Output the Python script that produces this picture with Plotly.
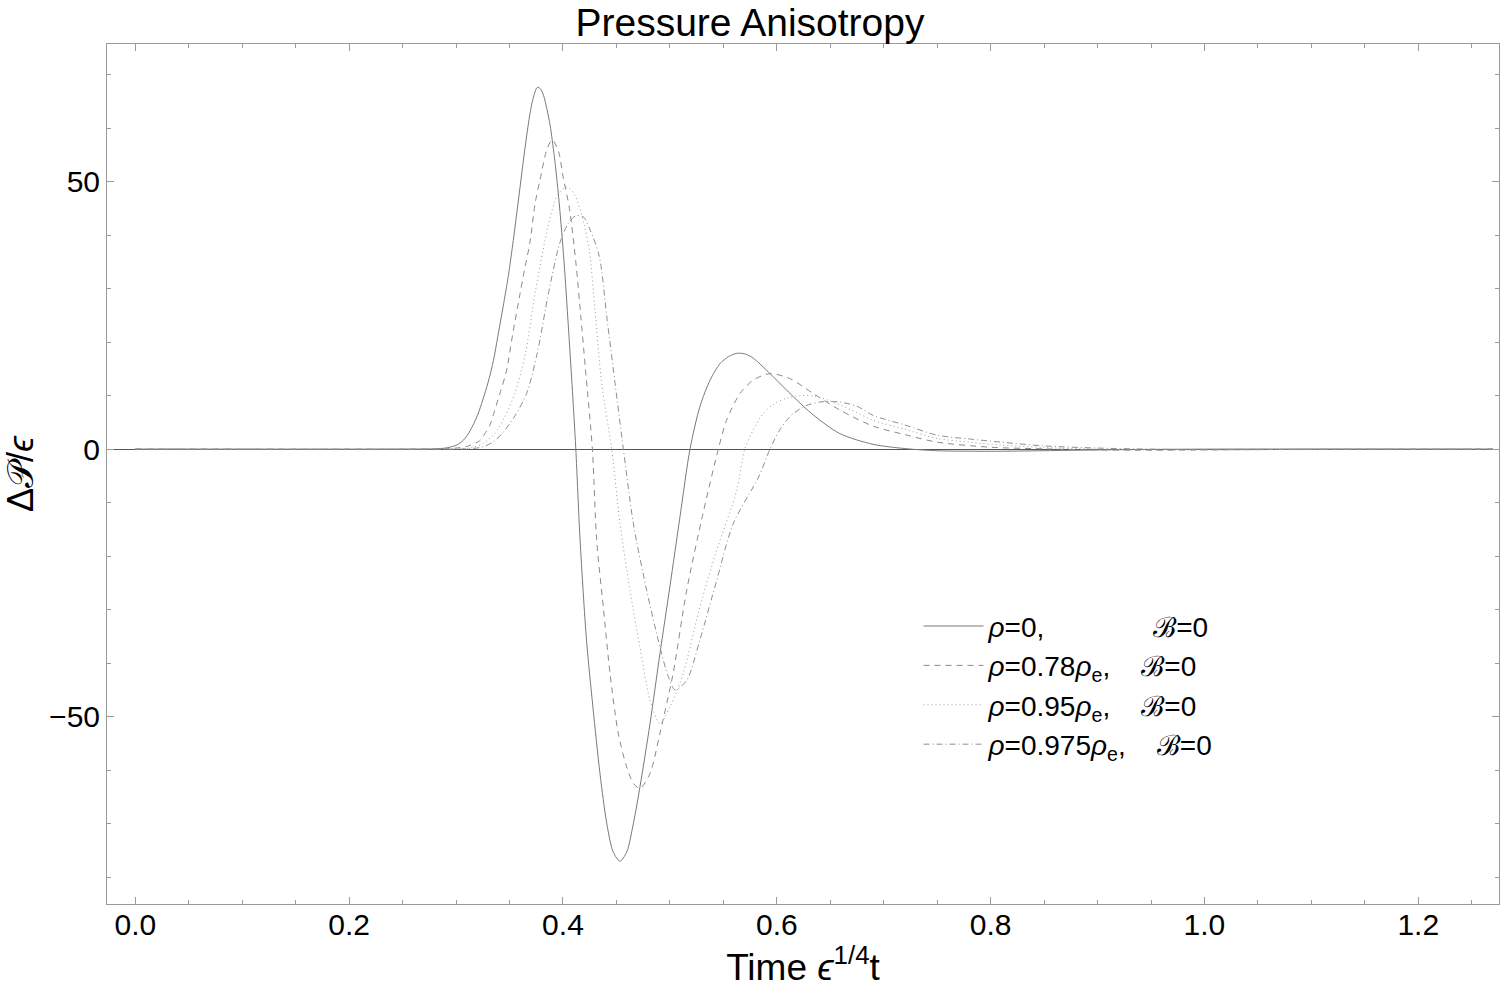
import plotly.graph_objects as go

# ---- data ----
x_rho0 = [0.0, 0.25, 0.28, 0.29, 0.30, 0.307, 0.313, 0.32, 0.325, 0.33, 0.335, 0.339, 0.344, 0.349,
          0.3535, 0.358, 0.363, 0.366, 0.369, 0.372, 0.376, 0.379, 0.382, 0.385, 0.388, 0.392,
          0.396, 0.401, 0.405, 0.4085, 0.412, 0.416, 0.422, 0.428, 0.4346,
          0.441, 0.447, 0.4533, 0.4596, 0.4658, 0.472, 0.4814, 0.4907, 0.500, 0.5094, 0.5188,
          0.528, 0.5376, 0.547, 0.555, 0.5625, 0.570, 0.578, 0.5967, 0.6154, 0.634, 0.659, 0.690,
          0.72, 0.75, 0.80, 0.85, 0.90, 1.0, 1.27]
y_rho0 = [0.0, 0.0, 0.05, 0.2, 0.7, 1.7, 3.4, 6.3, 9.2, 12.5, 16.6, 21.0, 26.6, 32.5,
          39.0, 46.0, 54.0, 58.5, 62.5, 65.5, 67.6, 67.3, 66.0, 63.5, 60.5, 54.5,
          47.0, 35.0, 23.0, 12.0, 0.0, -17.0, -35.7, -48.2, -60.6,
          -70.0, -75.3, -77.0, -75.3, -70.0, -63.1, -51.3, -38.2, -25.7, -12.7, 0.0,
          7.9, 12.9, 16.0, 17.3, 17.9, 17.8, 17.0, 13.5, 9.8, 6.4, 2.9, 0.9,
          0.1, -0.3, -0.4, -0.3, -0.15, 0.0, 0.0]

x_rho078 = [0.0, 0.26, 0.29, 0.30, 0.31, 0.3224, 0.327, 0.3317, 0.335, 0.341, 0.347, 0.353, 0.3598,
            0.364, 0.369, 0.374, 0.3785, 0.385, 0.390, 0.396, 0.400, 0.406, 0.412, 0.4166, 0.421,
            0.4275, 0.4315, 0.4377, 0.444, 0.4517, 0.4596, 0.466, 0.472, 0.4814, 0.4907, 0.503,
            0.5157, 0.531, 0.5453, 0.553, 0.5656, 0.578, 0.5936, 0.612, 0.634, 0.659, 0.690,
            0.72, 0.75, 0.80, 0.85, 0.90, 0.95, 1.0, 1.1, 1.27]
y_rho078 = [0.0, 0.0, 0.05, 0.2, 0.5, 1.6, 2.9, 4.5, 6.5, 10.4, 14.5, 21.5, 29.0,
            33.5, 38.5, 46.0, 50.3, 56.0, 57.8, 55.5, 51.0, 45.0, 35.0, 25.0, 15.0,
            0.0, -17.0, -29.5, -41.9, -53.1, -59.4, -62.5, -63.4, -60.6, -53.1, -41.9,
            -26.4, -12.0, 0.0, 5.4, 10.4, 12.9, 14.1, 13.2, 10.4, 7.3, 4.3,
            2.7, 1.3, 0.35, 0.05, -0.15, -0.2, -0.15, -0.05, 0.0]

x_rho095 = [0.0, 0.28, 0.30, 0.315, 0.325, 0.336, 0.345, 0.355, 0.365, 0.3738, 0.386, 0.395,
            0.4035, 0.411, 0.4197, 0.4246, 0.430, 0.4362, 0.4456, 0.4533, 0.4627, 0.472,
            0.4814, 0.4907, 0.500, 0.5125, 0.528, 0.5438, 0.5625, 0.570, 0.578, 0.5874,
            0.597, 0.609, 0.622, 0.635, 0.65, 0.67, 0.69, 0.72, 0.75, 0.78, 0.81, 0.85,
            0.90, 0.95, 1.0, 1.1, 1.27]
y_rho095 = [0.0, 0.0, 0.05, 0.3, 1.0, 2.9, 5.8, 10.4, 18.0, 29.0, 41.6, 47.5,
            49.0, 47.5, 42.0, 37.2, 26.0, 12.3, 0.0, -13.9, -26.4, -37.0,
            -46.9, -51.3, -48.2, -41.9, -29.5, -18.9, -7.7, 0.0, 3.6, 6.7,
            8.4, 9.5, 10.0, 9.9, 9.0, 7.3, 5.4, 3.7, 2.0, 1.3, 0.75, 0.3,
            0.0, -0.15, -0.15, -0.05, 0.0]

x_rho0975 = [0.0, 0.29, 0.31, 0.325, 0.335, 0.343, 0.355, 0.366, 0.376, 0.3863, 0.397, 0.405,
             0.412, 0.419, 0.4253, 0.434, 0.441, 0.4487, 0.4565, 0.4658, 0.4783, 0.4907,
             0.4985, 0.5048, 0.5157, 0.528, 0.5438, 0.5593, 0.583, 0.5936, 0.6028, 0.612,
             0.6248, 0.6403, 0.659, 0.675, 0.69, 0.72, 0.75, 0.78, 0.81, 0.85, 0.90, 0.95,
             1.0, 1.1, 1.27]
y_rho0975 = [0.0, 0.0, 0.05, 0.4, 1.4, 2.9, 6.2, 10.4, 18.0, 29.0, 38.5, 42.2,
             43.6, 43.4, 41.0, 36.0, 24.7, 12.3, 0.0, -13.9, -26.4, -37.0,
             -42.5, -45.0, -43.2, -35.7, -24.5, -13.9, -5.2, 0.0, 3.6, 6.0,
             7.9, 8.8, 8.8, 8.0, 6.3, 4.5, 2.6, 1.9, 1.3, 0.6, 0.2, 0.0,
             -0.1, -0.05, 0.0]

labels = [
    "<i>ρ</i>=0,\u00a0\u00a0\u00a0\u00a0\u00a0\u00a0\u00a0\u00a0\u00a0\u00a0\u00a0\u00a0\u00a0\u00a0ℬ=0",
    "<i>ρ</i>=0.78<i>ρ</i><sub>e</sub>,\u00a0\u00a0\u00a0\u00a0ℬ=0",
    "<i>ρ</i>=0.95<i>ρ</i><sub>e</sub>,\u00a0\u00a0\u00a0\u00a0ℬ=0",
    "<i>ρ</i>=0.975<i>ρ</i><sub>e</sub>,\u00a0\u00a0\u00a0\u00a0ℬ=0",
]

series = [
    (x_rho0, y_rho0, "solid", "#7a7a7a"),
    (x_rho078, y_rho078, "6px,5px", "#8a8a8a"),
    (x_rho095, y_rho095, "1px,3px", "#9a9a9a"),
    (x_rho0975, y_rho0975, "6px,3px,1px,3px", "#8f8f8f"),
]

fig = go.Figure()
for (xs, ys, dash, col), name in zip(series, labels):
    fig.add_trace(go.Scatter(x=xs, y=ys, mode="lines", name=name,
                             line=dict(color=col, width=1, dash=dash, shape="spline", smoothing=0.8)))

font = "Liberation Sans, Arial, sans-serif"
axis_common = dict(showline=True, linecolor="#9a9a9a", linewidth=1, mirror="ticks",
                   ticks="inside", tickcolor="#9a9a9a", ticklen=7, tickwidth=1,
                   showgrid=False, tickfont=dict(size=30, color="black", family=font))

fig.update_layout(
    width=1500, height=994,
    margin=dict(l=107, r=1, t=44, b=90),
    paper_bgcolor="white", plot_bgcolor="white",
    title=dict(text="Pressure Anisotropy", x=0.5, xanchor="center", y=0.978, yanchor="middle",
               font=dict(size=39, color="black", family=font)),
    xaxis=dict(range=[-0.0265, 1.2755], tickvals=[0.0, 0.2, 0.4, 0.6, 0.8, 1.0, 1.2],
               ticktext=["0.0", "0.2", "0.4", "0.6", "0.8", "1.0", "1.2"], zeroline=False,
               minor=dict(dtick=0.05, tick0=0, ticks="inside", ticklen=4, tickcolor="#9a9a9a"),
               ticklabelstandoff=-6,
               title=dict(text="Time <i>ϵ</i><sup>1/4</sup>t", font=dict(size=37, color="black", family=font),
                          standoff=10),
               **axis_common),
    yaxis=dict(range=[-85.0, 75.7], tickvals=[-50, 0, 50], ticktext=["−50", "0", "50"],
               zeroline=True, zerolinecolor="#555555", zerolinewidth=1.3,
               minor=dict(dtick=10, tick0=0, ticks="inside", ticklen=4, tickcolor="#9a9a9a"),
               title=dict(text="Δ𝒫/<i>ϵ</i>", font=dict(size=36, color="black", family=font),
                          standoff=8),
               **axis_common),
    legend=dict(x=0.583, y=0.352, xanchor="left", yanchor="top", bgcolor="rgba(0,0,0,0)",
                font=dict(size=28, color="black", family=font), tracegroupgap=0,
                itemwidth=60),
    showlegend=True,
)

fig.write_html("out.html")
